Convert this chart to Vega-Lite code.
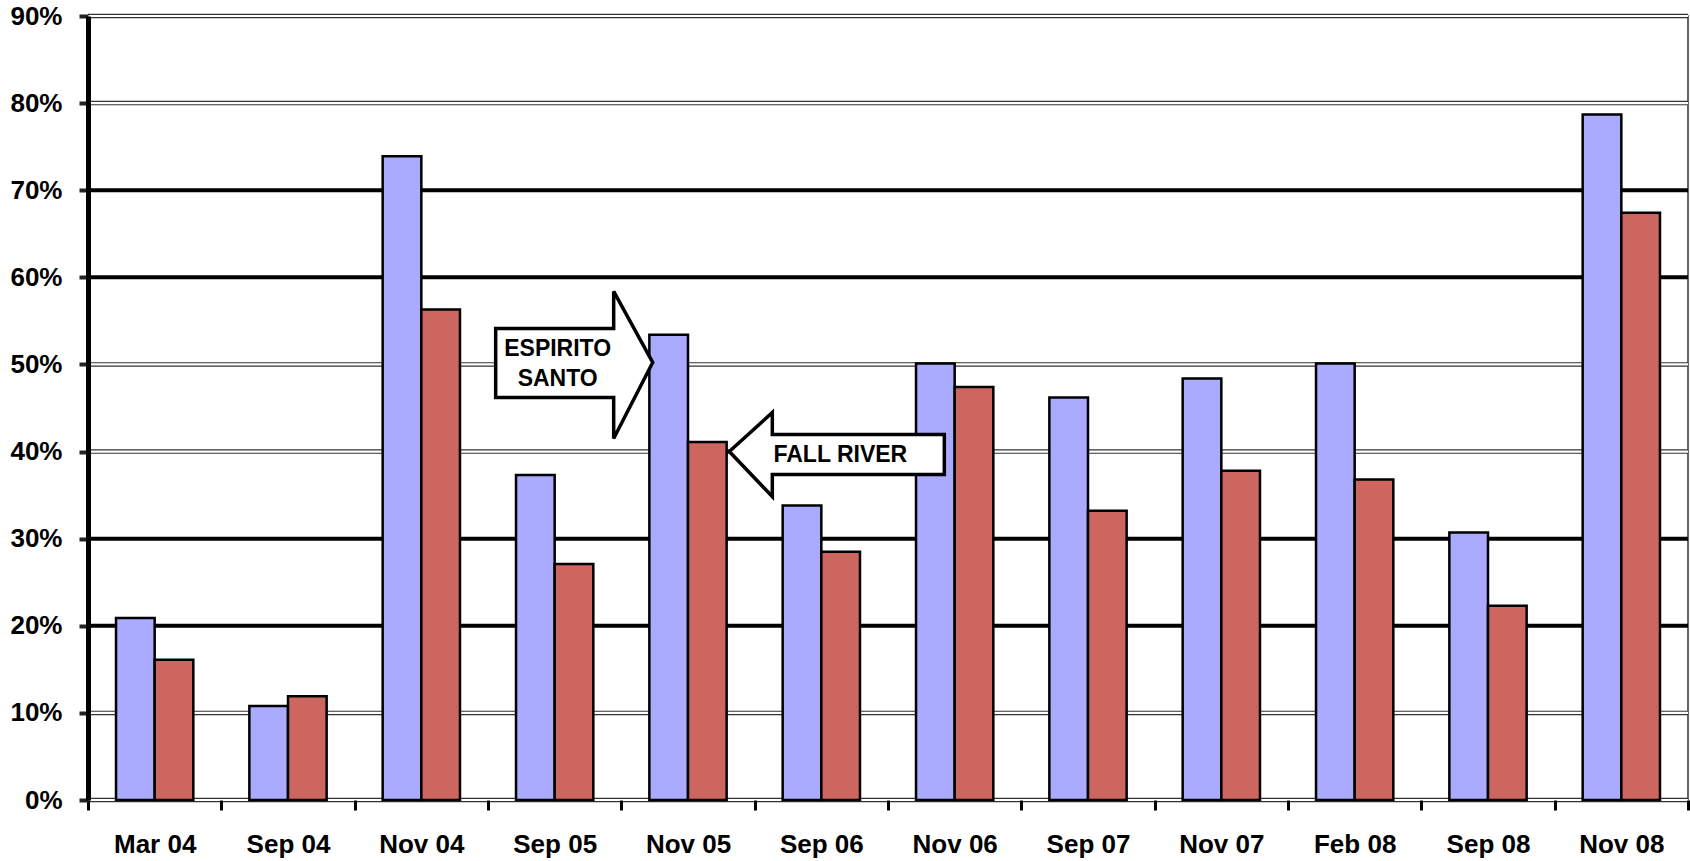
{
  "$schema": "https://vega.github.io/schema/vega-lite/v6.json",
  "autosize": {"type": "none"},
  "padding": {"left": 88, "top": 16, "right": 2, "bottom": 61},
  "width": 1600,
  "height": 784,
  "background": "white",
  "config": {
    "view": {"stroke": "#333", "strokeWidth": 1.5},
    "font": "Liberation Sans"
  },
  "datasets": {
    "bars": [
      {"date": "Mar 04", "series": "Espirito Santo", "value": 0.209},
      {"date": "Mar 04", "series": "Fall River", "value": 0.161},
      {"date": "Sep 04", "series": "Espirito Santo", "value": 0.108},
      {"date": "Sep 04", "series": "Fall River", "value": 0.119},
      {"date": "Nov 04", "series": "Espirito Santo", "value": 0.739},
      {"date": "Nov 04", "series": "Fall River", "value": 0.563},
      {"date": "Sep 05", "series": "Espirito Santo", "value": 0.373},
      {"date": "Sep 05", "series": "Fall River", "value": 0.271},
      {"date": "Nov 05", "series": "Espirito Santo", "value": 0.534},
      {"date": "Nov 05", "series": "Fall River", "value": 0.411},
      {"date": "Sep 06", "series": "Espirito Santo", "value": 0.338},
      {"date": "Sep 06", "series": "Fall River", "value": 0.285},
      {"date": "Nov 06", "series": "Espirito Santo", "value": 0.501},
      {"date": "Nov 06", "series": "Fall River", "value": 0.474},
      {"date": "Sep 07", "series": "Espirito Santo", "value": 0.462},
      {"date": "Sep 07", "series": "Fall River", "value": 0.332},
      {"date": "Nov 07", "series": "Espirito Santo", "value": 0.484},
      {"date": "Nov 07", "series": "Fall River", "value": 0.378},
      {"date": "Feb 08", "series": "Espirito Santo", "value": 0.501},
      {"date": "Feb 08", "series": "Fall River", "value": 0.368},
      {"date": "Sep 08", "series": "Espirito Santo", "value": 0.307},
      {"date": "Sep 08", "series": "Fall River", "value": 0.223},
      {"date": "Nov 08", "series": "Espirito Santo", "value": 0.787},
      {"date": "Nov 08", "series": "Fall River", "value": 0.674}
    ],
    "grid": [
      {"value": 0}, {"value": 0.1}, {"value": 0.2}, {"value": 0.3}, {"value": 0.4},
      {"value": 0.5}, {"value": 0.6}, {"value": 0.7}, {"value": 0.8}, {"value": 0.9}
    ],
    "notes": [
      {"date": "Nov 05", "series": "Espirito Santo", "value": 0.5, "label": "ESPIRITO\nSANTO"},
      {"date": "Nov 05", "series": "Fall River", "value": 0.4, "label": "FALL RIVER"}
    ]
  },
  "layer": [
    {
      "data": {"name": "grid"},
      "mark": {"type": "rule", "color": "#000", "strokeWidth": 4},
      "transform": [{"filter": "indexof([0.2,0.3,0.6,0.7], datum.value) >= 0"}],
      "encoding": {
        "y": {"field": "value", "type": "quantitative", "scale": {"domain": [0, 0.9], "nice": false, "zero": true}}
      }
    },
    {
      "data": {"name": "grid"},
      "mark": {"type": "rule", "color": "#333", "strokeWidth": 4.5},
      "transform": [{"filter": "indexof([0.2,0.3,0.6,0.7], datum.value) < 0"}],
      "encoding": {
        "y": {"field": "value", "type": "quantitative"}
      }
    },
    {
      "data": {"name": "grid"},
      "mark": {"type": "rule", "color": "#fff", "strokeWidth": 2.2},
      "transform": [{"filter": "indexof([0.2,0.3,0.6,0.7], datum.value) < 0"}],
      "encoding": {
        "y": {"field": "value", "type": "quantitative"}
      }
    },
    {
      "data": {"name": "bars"},
      "mark": {"type": "bar", "stroke": "#000", "strokeWidth": 2.5},
      "encoding": {
        "x": {
          "field": "date", "type": "nominal", "sort": null,
          "scale": {"paddingInner": 0, "paddingOuter": 0},
          "axis": {
            "title": null, "labelAngle": 0, "labelFont": "Liberation Sans", "labelFontWeight": "bold",
            "labelFontSize": 26, "labelColor": "#000", "labelPadding": 21,
            "domain": false, "ticks": true, "tickBand": "extent", "tickSize": 10, "tickWidth": 3,
            "tickColor": "#000", "zindex": 1
          }
        },
        "xOffset": {"field": "series", "type": "nominal", "scale": {"paddingInner": 0, "paddingOuter": 0.725}},
        "y": {
          "field": "value", "type": "quantitative",
          "axis": {
            "title": null, "format": ".0%", "values": [0, 0.1, 0.2, 0.3, 0.4, 0.5, 0.6, 0.7, 0.8, 0.9],
            "grid": false, "labelFont": "Liberation Sans", "labelFontWeight": "bold", "labelFontSize": 26,
            "labelColor": "#000", "labelPadding": 17, "tickSize": 9, "tickColor": "#222", "tickWidth": 4,
            "domain": true, "domainColor": "#000", "domainWidth": 5, "zindex": 1
          }
        },
        "color": {
          "field": "series", "type": "nominal",
          "scale": {"domain": ["Espirito Santo", "Fall River"], "range": ["#AAAAFF", "#CC665F"]},
          "legend": null
        }
      }
    },
    {
      "data": {"name": "notes"},
      "transform": [{"filter": "datum.series == 'Espirito Santo'"}],
      "mark": {
        "type": "point", "filled": true, "fill": "#fff", "stroke": "#000", "strokeWidth": 3.5, "opacity": 1,
        "size": 40000,
        "shape": "M -0.16 -0.02 L -0.55 -0.73 L -0.55 -0.36 L -1.73 -0.36 L -1.73 0.33 L -0.55 0.33 L -0.55 0.74 Z"
      },
      "encoding": {
        "x": {"field": "date", "type": "nominal", "sort": null},
        "xOffset": {"field": "series", "type": "nominal"},
        "y": {"field": "value", "type": "quantitative"}
      }
    },
    {
      "data": {"name": "notes"},
      "transform": [{"filter": "datum.series == 'Fall River'"}],
      "mark": {
        "type": "point", "filled": true, "fill": "#fff", "stroke": "#000", "strokeWidth": 3.5, "opacity": 1,
        "size": 40000,
        "shape": "M 0.22 0 L 0.65 -0.39 L 0.65 -0.17 L 2.37 -0.17 L 2.37 0.23 L 0.65 0.23 L 0.65 0.45 Z"
      },
      "encoding": {
        "x": {"field": "date", "type": "nominal", "sort": null},
        "xOffset": {"field": "series", "type": "nominal"},
        "y": {"field": "value", "type": "quantitative"}
      }
    },
    {
      "data": {"name": "notes"},
      "transform": [{"filter": "datum.series == 'Espirito Santo'"}],
      "mark": {
        "type": "text", "font": "Liberation Sans", "fontWeight": "bold", "fontSize": 23, "color": "#000",
        "align": "center", "baseline": "middle", "lineBreak": "\n", "lineHeight": 30, "dx": -111, "dy": -15
      },
      "encoding": {
        "x": {"field": "date", "type": "nominal", "sort": null},
        "xOffset": {"field": "series", "type": "nominal"},
        "y": {"field": "value", "type": "quantitative"},
        "text": {"field": "label"}
      }
    },
    {
      "data": {"name": "notes"},
      "transform": [{"filter": "datum.series == 'Fall River'"}],
      "mark": {
        "type": "text", "font": "Liberation Sans", "fontWeight": "bold", "fontSize": 23, "color": "#000",
        "align": "center", "baseline": "middle", "dx": 133, "dy": 3
      },
      "encoding": {
        "x": {"field": "date", "type": "nominal", "sort": null},
        "xOffset": {"field": "series", "type": "nominal"},
        "y": {"field": "value", "type": "quantitative"},
        "text": {"field": "label"}
      }
    }
  ]
}
